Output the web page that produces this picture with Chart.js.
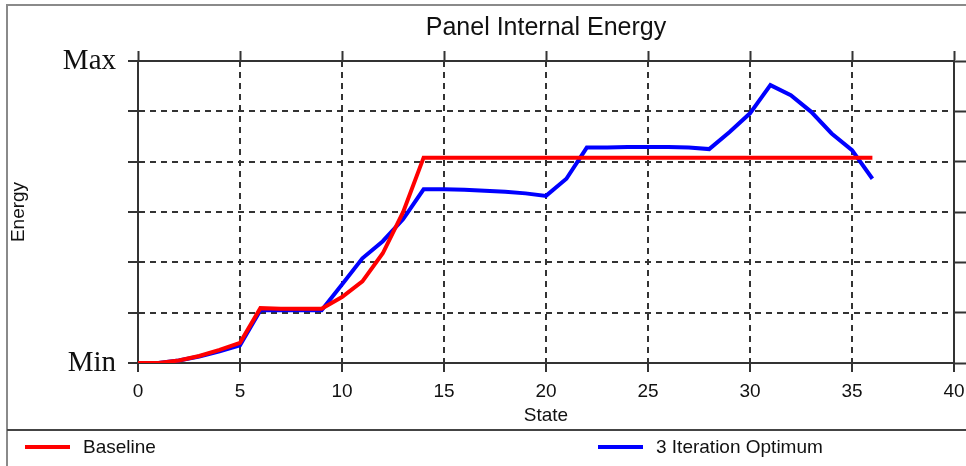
<!DOCTYPE html>
<html lang="en">

<head>
    <meta charset="UTF-8">
    <style>
        body {
            margin: 0;
            background: #fff;
        }

        #wrap {
            width: 966px;
            height: 466px;
        }
    </style>
    <title>Panel Internal Energy</title>
</head>

<body>
    <div id="wrap"><canvas id="myChart" width="966" height="466"></canvas></div>

    <script src="https://cdn.jsdelivr.net/npm/chart.js"></script>
    <script>
        // data (energy in grid units, 0 = Min, 6 = Max)
        var states = [0, 1, 2, 3, 4, 5, 6, 7, 8, 9, 10, 11, 12, 13, 14, 15, 16, 17, 18, 19, 20,
            21, 22, 23, 24, 25, 26, 27, 28, 29, 30, 31, 32, 33, 34, 35, 36];
        var baseline = [0, 0, 0.05, 0.14, 0.26, 0.40, 1.09, 1.08, 1.08, 1.08, 1.31, 1.62, 2.18, 3.00, 4.08,
            4.08, 4.08, 4.08, 4.08, 4.08, 4.08, 4.08, 4.08, 4.08, 4.08, 4.08, 4.08, 4.08, 4.08, 4.08,
            4.08, 4.08, 4.08, 4.08, 4.08, 4.08, 4.08];
        var optimum = [0, 0, 0.05, 0.13, 0.23, 0.35, 1.05, 1.05, 1.05, 1.05, 1.56, 2.08, 2.42, 2.86, 3.45,
            3.45, 3.44, 3.42, 3.40, 3.37, 3.32, 3.66, 4.28, 4.28, 4.29, 4.29, 4.29, 4.28, 4.25, 4.59,
            4.96, 5.52, 5.32, 4.99, 4.56, 4.23, 3.66];
        var seriesNames = ['Baseline', '3 Iteration Optimum'];
        var yTickLabels = ['Min', '', '', '', '', '', 'Max'];
        var xTicks = { min: 0, max: 40, step: 5 };

        var sans = "'Liberation Sans', Arial, sans-serif";
        var serif = "'Liberation Serif', 'Times New Roman', serif";
        var dark = '#333';

        function points(vals) {
            return states.map(function (s, i) { return { x: s, y: vals[i] }; });
        }

        // frame round the whole chart and the legend strip under it
        var framePlugin = {
            id: 'frame',
            beforeDraw: function (chart) {
                var ctx = chart.ctx;
                ctx.save();
                ctx.fillStyle = '#fff';
                ctx.fillRect(0, 0, chart.width, chart.height);
                ctx.restore();
            },
            afterDraw: function (chart) {
                var ctx = chart.ctx;
                ctx.save();
                ctx.strokeStyle = '#8a8a8a';
                ctx.lineWidth = 2;
                ctx.strokeRect(7, 5, chart.width + 10, chart.height + 10);
                ctx.strokeStyle = '#444';
                ctx.beginPath();
                ctx.moveTo(7, 430);
                ctx.lineTo(chart.width, 430);
                ctx.stroke();

                // legend
                var spots = [25, 598];
                ctx.font = '19px ' + sans;
                ctx.textBaseline = 'middle';
                ctx.fillStyle = '#111';
                chart.data.datasets.forEach(function (ds, i) {
                    var x = spots[i], y = 447;
                    ctx.strokeStyle = ds.borderColor;
                    ctx.lineWidth = 4;
                    ctx.beginPath();
                    ctx.moveTo(x, y);
                    ctx.lineTo(x + 45, y);
                    ctx.stroke();
                    ctx.fillText(ds.label, x + 58, y + 1);
                });
                ctx.restore();
            }
        };

        var ctx = document.getElementById('myChart').getContext('2d');
        var myChart = new Chart(ctx, {
            type: 'line',
            data: {
                datasets: [{
                    label: seriesNames[0],
                    data: points(baseline),
                    borderColor: '#ff0000',
                    borderWidth: 4,
                    pointRadius: 0,
                    tension: 0
                }, {
                    label: seriesNames[1],
                    data: points(optimum),
                    borderColor: '#0000ff',
                    borderWidth: 4,
                    pointRadius: 0,
                    tension: 0
                }]
            },
            options: {
                responsive: false,
                animation: false,
                layout: { padding: 0, autoPadding: false },
                plugins: {
                    legend: { display: false },
                    title: { display: false },
                    tooltip: { enabled: false }
                },
                scales: {
                    x: {
                        type: 'linear',
                        position: 'bottom',
                        min: xTicks.min,
                        max: xTicks.max,
                        ticks: { stepSize: xTicks.step, color: '#111', font: { family: sans, size: 19 }, padding: 8, maxRotation: 0 },
                        grid: { color: dark, lineWidth: 2, tickLength: 9, tickColor: dark, tickWidth: 2 },
                        border: { color: dark, width: 2, dash: [6, 5] },
                        title: { display: true, text: 'State', color: '#111', font: { family: sans, size: 19 }, padding: { bottom: 39 } },
                        afterFit: function (s) {
                            s.height = 103;
                            s.paddingLeft = 0;
                            s.paddingRight = 0;
                        }
                    },
                    x2: {
                        type: 'linear',
                        position: 'top',
                        min: xTicks.min,
                        max: xTicks.max,
                        ticks: { stepSize: xTicks.step, display: false },
                        grid: { drawOnChartArea: false, tickLength: 10, tickColor: dark, tickWidth: 2 },
                        border: { color: dark, width: 2 },
                        title: { display: true, text: 'Panel Internal Energy', color: '#111', font: { family: sans, size: 25 }, padding: { top: 13 } },
                        afterFit: function (s) {
                            s.height = 61;
                            s.paddingLeft = 0;
                            s.paddingRight = 0;
                        }
                    },
                    y: {
                        position: 'left',
                        min: 0,
                        max: 6,
                        ticks: {
                            stepSize: 1,
                            color: '#111',
                            padding: 12,
                            font: { family: serif, size: 29 },
                            callback: function (v) { return yTickLabels[v]; }
                        },
                        grid: { color: dark, lineWidth: 2, tickLength: 10, tickColor: dark, tickWidth: 2 },
                        border: { color: dark, width: 2, dash: [6, 5] },
                        title: { display: true, text: 'Energy', color: '#111', font: { family: sans, size: 19 }, padding: { top: 7 } },
                        afterFit: function (s) { s.width = 138; }
                    },
                    y2: {
                        position: 'right',
                        min: 0,
                        max: 6,
                        ticks: { stepSize: 1, display: false },
                        grid: { drawOnChartArea: false, tickLength: 12, tickColor: dark, tickWidth: 2 },
                        border: { color: dark, width: 2 },
                        afterFit: function (s) { s.width = 12; }
                    }
                }
            },
            plugins: [framePlugin]
        });
    </script>
</body>

</html>
